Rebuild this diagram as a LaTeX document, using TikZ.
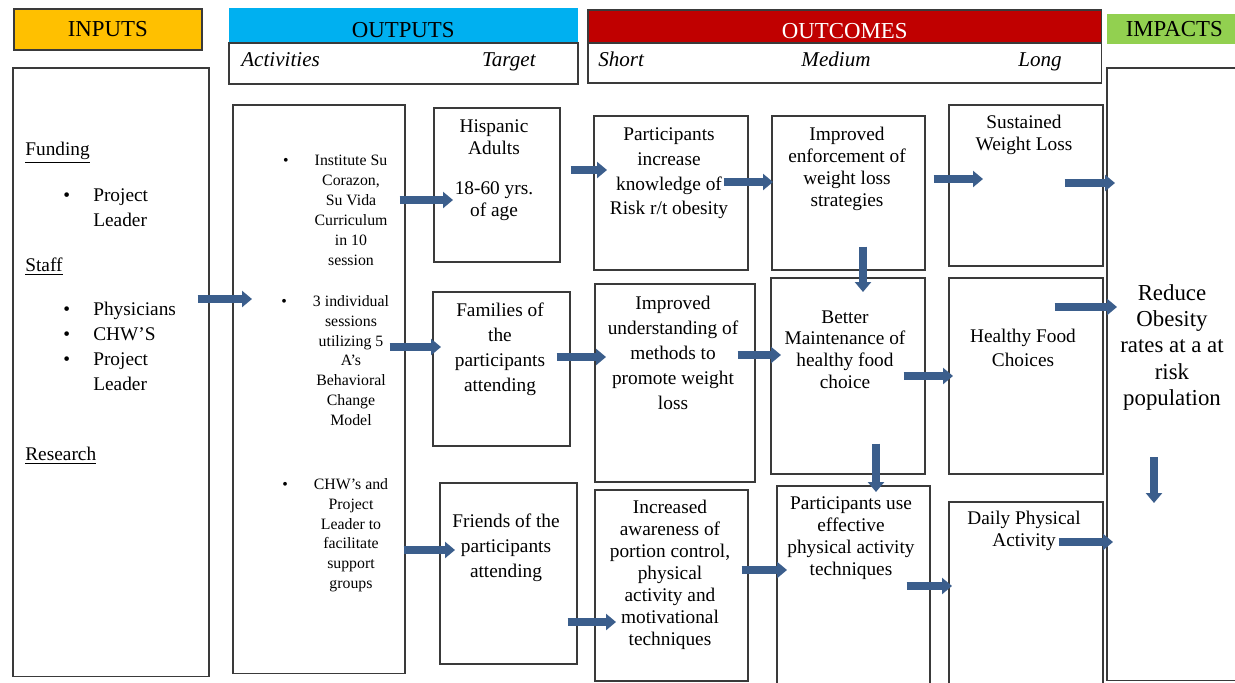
\documentclass[tikz,border=0pt]{standalone}
\usepackage{fontspec}
\setmainfont{Liberation Serif}
\usetikzlibrary{arrows.meta,positioning}
\definecolor{Gold}{HTML}{FFC000}
\definecolor{Sky}{HTML}{00B0F0}
\definecolor{Crimson}{HTML}{C00000}
\definecolor{Lime}{HTML}{92D050}
\definecolor{Steel}{HTML}{3B5E8C}
\definecolor{Edge}{HTML}{3A3A3A}
\newcommand{\inbullet}[1]{\makebox[1.36cm][l]{\hspace{0.76cm}\textbullet}#1}
\newcommand{\initem}[1]{\hspace*{1.36cm}#1}
\newcommand{\actbullet}{\leavevmode\llap{\textbullet\hspace{0.52cm}}}
\tikzset{
  hbox/.style={draw=Edge,line width=0.9pt,inner sep=0pt,anchor=north west,
              font=\fontsize{13}{15}\selectfont},
  lowtext/.style={text height=13.7pt,text depth=0pt},
  obox/.style={draw=Edge,line width=0.9pt,inner sep=0pt,anchor=north west},
  txt/.style={anchor=north,inner sep=0pt,align=center,font=\fontsize{11}{12.5}\selectfont},
  widetxt/.style={txt,font=\fontsize{11}{14.2}\selectfont},
  acttxt/.style={txt,font=\fontsize{9}{11.3}\selectfont},
  subtxt/.style={inner sep=0pt,font=\fontsize{12}{14}\selectfont\itshape},
  flow/.style={-{Triangle[length=0.2cm,width=0.32cm]},line width=0.15cm,draw=Steel}
}

\begin{document}
\begin{tikzpicture}[x=0.02cm,y=-0.02cm]
  \path[use as bounding box,fill=white] (0,0) rectangle (1235,683);
  % headers
  \node[hbox,fill=Gold,minimum width=3.76cm,minimum height=0.82cm] (inH) at (13,8) {INPUTS};
  \node[hbox,lowtext,fill=Sky,draw=none,minimum width=6.98cm,minimum height=0.7cm] (outH) at (228,7) {OUTPUTS};
  \node[obox,minimum width=6.98cm,minimum height=0.82cm] (outS) at (228,42) {};
  \node[hbox,lowtext,fill=Crimson,text=white,minimum width=10.28cm,minimum height=0.66cm] (outcH) at (587,9) {OUTCOMES};
  \node[obox,minimum width=10.28cm,minimum height=0.8cm] (outcS) at (587,42) {};
  \node[hbox,fill=Lime,draw=none,minimum width=2.7cm,minimum height=0.6cm] (impH) at (1106,13) {IMPACTS};
  \node[subtxt,anchor=base west] (actL) at (241,66) {Activities};
  \node[subtxt,anchor=base east] (tgtL) at (536,66) {Target};
  \node[subtxt,anchor=base west] (shortL) at (598,66) {Short};
  \node[subtxt,anchor=base] (medL) at (836,66) {Medium};
  \node[subtxt,anchor=base east] (longL) at (1062,66) {Long};

  % inputs
  \node[obox,minimum width=3.92cm,minimum height=12.18cm] (inp) at (12,67) {};
  \node[anchor=north west,inner sep=0pt,align=left,font=\fontsize{11}{14.2}\selectfont] (inpT) at (25,142)
    {\underline{Funding}\\[0.42cm]
     \inbullet{Project}\\
     \initem{Leader}\\[0.4cm]
     \underline{Staff}\\[0.38cm]
     \inbullet{Physicians}\\
     \inbullet{CHW’S}\\
     \inbullet{Project}\\
     \initem{Leader}\\[0.9cm]
     \underline{Research}};

  % activities
  \node[obox,minimum width=3.44cm,minimum height=11.38cm] (act) at (232,104) {};
  \node[acttxt] (actA) at (351,155) {\actbullet Institute Su\\Corazon,\\Su Vida\\Curriculum\\in 10\\session};
  \node[acttxt] (actB) at (351,295) {\actbullet 3 individual\\sessions\\utilizing 5\\A’s\\Behavioral\\Change\\Model};
  \node[acttxt] (actC) at (351,478) {\actbullet CHW’s and\\Project\\Leader to\\facilitate\\support\\groups};

  % target
  \node[obox,minimum width=2.52cm,minimum height=3.08cm] (hisp) at (433,107) {};
  \node[txt] (hispT) at (494,119) {Hispanic\\Adults\\[0.36cm]18-60 yrs.\\of age};
  \node[obox,minimum width=2.74cm,minimum height=3.08cm] (fam) at (432,291) {};
  \node[widetxt] (famT) at (500,303) {Families of\\the\\participants\\attending};
  \node[obox,minimum width=2.74cm,minimum height=3.62cm] (fri) at (439,482) {};
  \node[widetxt] (friT) at (506,514) {Friends of the\\participants\\attending};

  % short
  \node[obox,minimum width=3.08cm,minimum height=3.08cm] (pinc) at (593,115) {};
  \node[widetxt] (pincT) at (669,127) {Participants\\increase\\knowledge of\\Risk r/t obesity};
  \node[obox,minimum width=3.2cm,minimum height=3.96cm] (und) at (594,283) {};
  \node[widetxt] (undT) at (673,296) {Improved\\understanding of\\methods to\\promote weight\\loss};
  \node[obox,minimum width=3.06cm,minimum height=3.82cm] (awa) at (594,489) {};
  \node[txt] (awaT) at (670,500) {Increased\\awareness of\\portion control,\\physical\\activity and\\motivational\\techniques};

  % medium
  \node[obox,minimum width=3.06cm,minimum height=3.08cm] (enf) at (771,115) {};
  \node[txt] (enfT) at (847,127) {Improved\\enforcement of\\weight loss\\strategies};
  \node[obox,minimum width=3.08cm,minimum height=3.92cm] (bet) at (770,277) {};
  \node[txt] (betT) at (845,310) {Better\\Maintenance of\\healthy food\\choice};
  \node[obox,minimum width=3.06cm,minimum height=4.1cm] (puse) at (776,485) {};
  \node[txt] (puseT) at (851,496) {Participants use\\effective\\physical activity\\techniques};

  % long
  \node[obox,minimum width=3.08cm,minimum height=3.22cm] (sus) at (948,104) {};
  \node[txt] (susT) at (1024,115) {Sustained\\Weight Loss};
  \node[obox,minimum width=3.08cm,minimum height=3.92cm] (hea) at (948,277) {};
  \node[txt,font=\fontsize{11}{13.6}\selectfont] (heaT) at (1023,329) {Healthy Food\\Choices};
  \node[obox,minimum width=3.08cm,minimum height=3.78cm] (day) at (948,501) {};
  \node[txt] (dayT) at (1024,511) {Daily Physical\\Activity};

  % impacts
  \node[obox,minimum width=2.78cm,minimum height=12.26cm] (imp) at (1106,67) {};
  \node[txt,font=\fontsize{13}{15}\selectfont] (impT) at (1172,284) {Reduce\\Obesity\\rates at a at\\risk\\population};

  % arrows
  \draw[flow] ([shift={(-12,232)}]inp.north east) -- ([shift={(20,195)}]act.north west);
  \draw[flow] ([shift={(-6,96)}]act.north east) -- ([shift={(20,93)}]hisp.north west);
  \draw[flow] ([shift={(-16,243)}]act.north east) -- ([shift={(9,56)}]fam.north west);
  \draw[flow] ([shift={(-2,446)}]act.north east) -- ([shift={(16,68)}]fri.north west);
  \draw[flow] ([shift={(10,63)}]hisp.north east) -- ([shift={(14,55)}]pinc.north west);
  \draw[flow] ([shift={(-25,67)}]pinc.north east) -- ([shift={(2,67)}]enf.north west);
  \draw[flow] ([shift={(-14,66)}]fam.north east) -- ([shift={(12,74)}]und.north west);
  \draw[flow] ([shift={(-18,72)}]und.north east) -- ([shift={(11,78)}]bet.north west);
  \draw[flow] ([shift={(-10,140)}]fri.north east) -- ([shift={(22,133)}]awa.north west);
  \draw[flow] ([shift={(-7,81)}]awa.north east) -- ([shift={(11,85)}]puse.north west);
  \draw[flow] ([shift={(92,-24)}]enf.south west) -- ([shift={(93,15)}]bet.north west);
  \draw[flow] ([shift={(106,-31)}]bet.south west) -- ([shift={(100,7)}]puse.north west);
  \draw[flow] ([shift={(-24,101)}]puse.north east) -- ([shift={(4,85)}]day.north west);
  \draw[flow] ([shift={(8,64)}]enf.north east) -- ([shift={(35,75)}]sus.north west);
  \draw[flow] ([shift={(-22,99)}]bet.north east) -- ([shift={(5,99)}]hea.north west);
  \draw[flow] ([shift={(-39,79)}]sus.north east) -- ([shift={(9,116)}]imp.north west);
  \draw[flow] ([shift={(-49,30)}]hea.north east) -- ([shift={(11,240)}]imp.north west);
  \draw[flow] ([shift={(-45,41)}]day.north east) -- ([shift={(7,475)}]imp.north west);
  \draw[flow] ([shift={(48,390)}]imp.north west) -- ([shift={(48,436)}]imp.north west);
\end{tikzpicture}
\end{document}
